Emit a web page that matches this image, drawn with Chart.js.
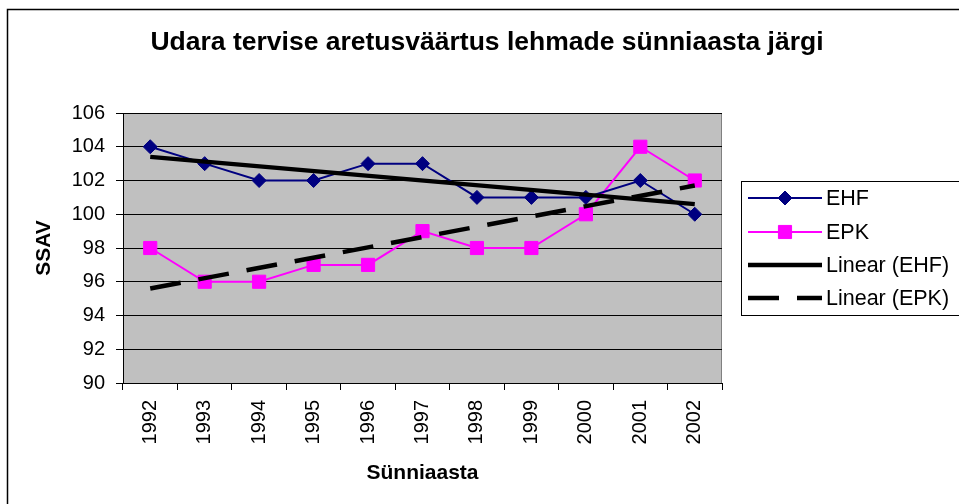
<!DOCTYPE html>
<html>
<head>
<meta charset="utf-8">
<script src="https://cdn.jsdelivr.net/npm/chart.js@4"></script>
<style>
html,body{margin:0;padding:0;background:#fff;}
#c{display:block;}
</style>
</head>
<body>
<canvas id="c" width="959" height="504"></canvas>
<script>
const categories = ["1992","1993","1994","1995","1996","1997","1998","1999","2000","2001","2002"];
const ehfValues = [104,103,102,102,103,103,101,101,101,102,100];
const epkValues = [98,96,96,97,97,99,98,98,100,104,102];
// trend lines: first and last year values
const trendEHF = [103.4,null,null,null,null,null,null,null,null,null,100.6];
const trendEPK = [95.6,null,null,null,null,null,null,null,null,null,101.7];
const yTicks = [90,92,94,96,98,100,102,104,106];
const seriesNames = ["EHF","EPK","Linear (EHF)","Linear (EPK)"];
const titleText = "Udara tervise aretusväärtus lehmade sünniaasta järgi";
const xTitle = "Sünniaasta";
const yTitle = "SSAV";

const FONT = '"Liberation Sans", Arial, sans-serif';

const decor = {
  id: 'decor',
  beforeDraw(chart) {
    const ctx = chart.ctx, a = chart.chartArea;
    ctx.save();
    ctx.fillStyle = '#fff';
    ctx.fillRect(0, 0, chart.width, chart.height);
    ctx.fillStyle = '#C0C0C0';
    ctx.fillRect(a.left, a.top, a.right - a.left, a.bottom - a.top);
    ctx.strokeStyle = '#808080';
    ctx.lineWidth = 1;
    ctx.beginPath();
    ctx.moveTo(a.left, a.top + 0.5);
    ctx.lineTo(a.right - 0.5, a.top + 0.5);
    ctx.lineTo(a.right - 0.5, a.bottom);
    ctx.stroke();
    ctx.restore();
  },
  afterDraw(chart) {
    const ctx = chart.ctx, a = chart.chartArea;
    ctx.save();
    // outer border
    ctx.strokeStyle = '#000';
    ctx.lineWidth = 1.5;
    ctx.strokeRect(7.5, 9.5, 980, 520);
    // title
    ctx.fillStyle = '#000';
    ctx.font = 'bold 26.5px ' + FONT;
    ctx.textAlign = 'center';
    ctx.textBaseline = 'middle';
    ctx.fillText(titleText, 487, 43);
    // axis titles
    ctx.font = 'bold 21px ' + FONT;
    ctx.fillText(xTitle, (a.left + a.right) / 2, 473);
    ctx.save();
    ctx.translate(44, (a.top + a.bottom) / 2);
    ctx.rotate(-Math.PI / 2);
    ctx.fillText(yTitle, 0, 0);
    ctx.restore();
    // legend
    ctx.lineWidth = 1;
    ctx.strokeStyle = '#000';
    ctx.strokeRect(741.5, 181.5, 300, 134);
    const ys = [198, 232, 265, 298];
    [0, 1, 2, 3].forEach((di, i) => {
      const ds = chart.data.datasets[di];
      const y = ys[i];
      ctx.save();
      ctx.strokeStyle = ds.borderColor;
      ctx.lineWidth = ds.borderWidth;
      ctx.setLineDash(ds.borderDash || []);
      ctx.beginPath();
      ctx.moveTo(748, y);
      ctx.lineTo(822, y);
      ctx.stroke();
      ctx.restore();
      if (ds.pointRadius > 0) {
        ctx.save();
        ctx.fillStyle = ds.pointBackgroundColor;
        ctx.strokeStyle = ds.borderColor;
        ctx.lineWidth = 1;
        Chart.helpers.drawPoint(ctx, {pointStyle: ds.pointStyle, radius: ds.pointRadius, borderWidth: 1, rotation: 0}, 785, y);
        ctx.restore();
      }
      ctx.fillStyle = '#000';
      ctx.font = '21.5px ' + FONT;
      ctx.textAlign = 'left';
      ctx.textBaseline = 'middle';
      ctx.fillText(ds.label, 826, y + 1);
    });
    ctx.restore();
  }
};

new Chart(document.getElementById('c'), {
  type: 'line',
  data: {
    labels: categories,
    datasets: [
      {label: seriesNames[0], data: ehfValues, borderColor: '#000080', backgroundColor: '#000080',
       pointBackgroundColor: '#000080', pointBorderColor: '#000080', borderWidth: 2, tension: 0,
       pointStyle: 'rectRot', pointRadius: 7, pointBorderWidth: 1, order: 1},
      {label: seriesNames[1], data: epkValues, borderColor: '#FF00FF', backgroundColor: '#FF00FF',
       pointBackgroundColor: '#FF00FF', pointBorderColor: '#FF00FF', borderWidth: 2, tension: 0,
       pointStyle: 'rect', pointRadius: 9.3, pointBorderWidth: 1, order: 1},
      {label: seriesNames[2], data: trendEHF, borderColor: '#000', borderWidth: 4.5, pointRadius: 0,
       spanGaps: true, tension: 0, order: 0},
      {label: seriesNames[3], data: trendEPK, borderColor: '#000', borderWidth: 4.5, pointRadius: 0,
       borderDash: [31, 18], spanGaps: true, tension: 0, order: 0}
    ]
  },
  options: {
    responsive: false,
    animation: false,
    devicePixelRatio: 1,
    layout: {padding: {left: 0, top: 113, right: 237, bottom: 0}},
    plugins: {legend: {display: false}, title: {display: false}, tooltip: {enabled: false}},
    scales: {
      x: {
        type: 'category',
        offset: true,
        afterFit(s) { s.height = 121; },
        grid: {offset: true, drawOnChartArea: false, drawTicks: true, tickLength: 7, color: '#000'},
        border: {color: '#000', width: 1},
        ticks: {minRotation: 90, maxRotation: 90, autoSkip: false, padding: 10, color: '#000',
                font: {family: FONT, size: 20}}
      },
      y: {
        min: 90, max: 106,
        afterFit(s) { s.width = 123; },
        afterBuildTicks(s) { s.ticks = yTicks.map(v => ({value: v})); },
        grid: {color: '#000', lineWidth: 1, tickLength: 7},
        border: {color: '#000', width: 1},
        ticks: {padding: 11, color: '#000', font: {family: FONT, size: 20}}
      }
    }
  },
  plugins: [decor]
});
</script>
</body>
</html>
